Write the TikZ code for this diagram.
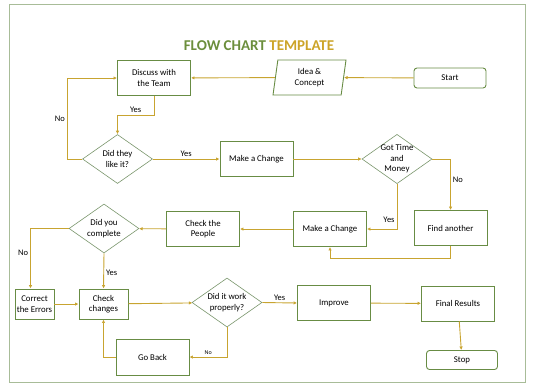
\documentclass[tikz,border=0pt]{standalone}
\usepackage{fontspec}
\setmainfont{Carlito}
\usepackage{tikz}
\usetikzlibrary{arrows.meta,positioning,shapes.geometric}
\definecolor{framegreen}{RGB}{168,188,152}
\definecolor{boxgreen}{RGB}{104,140,68}
\definecolor{decgreen}{RGB}{122,150,108}
\definecolor{linegold}{RGB}{200,164,48}
\definecolor{titlegreen}{RGB}{107,142,60}
\definecolor{titlegold}{RGB}{204,164,40}
\tikzset{
  >={Latex[length=3.5pt,width=3.5pt]},
  box/.style={draw=boxgreen, line width=0.9pt, fill=white, align=center, font=\fontsize{8.8}{10.5}\selectfont, minimum width=73pt, minimum height=35pt, inner sep=1.5pt},
  term/.style={box, rounded corners=3pt, minimum height=20pt},
  io/.style={box, trapezium, trapezium left angle=77, trapezium right angle=103, trapezium stretches body, minimum width=73pt, minimum height=35pt},
  dec/.style={draw=decgreen, line width=0.6pt, diamond, fill=white, align=center, font=\fontsize{8.8}{10.5}\selectfont, minimum width=70pt, minimum height=49pt, inner sep=-3pt},
  lbl/.style={font=\fontsize{8.5}{10}\selectfont, inner sep=2pt},
  flow/.style={->, draw=linegold, line width=0.9pt},
}
\begin{document}
\begin{tikzpicture}[x=1pt,y=-1pt]
  \useasboundingbox (0,0) rectangle (534,384);
  \draw[framegreen, line width=1pt] (9,4) rectangle (525,382);
  \node[font=\fontsize{15}{18}\bfseries] (ttl) at (259,46)
    {\textcolor{titlegreen}{FLOW CHART} \textcolor{titlegold}{TEMPLATE}};

  \node[box] (discuss) at (154,78) {Discuss with\\the Team};
  \node[io] (idea) at (309.5,77.5) {Idea \&\\Concept};
  \node[term, minimum width=72pt] (start) at (450,78) {Start};
  \node[dec] (liked) at (117.5,159) {Did they\\like it?};
  \node[box] (change1) at (256.5,159) {Make a Change};
  \node[dec] (time) at (397,159) {Got Time\\and\\Money};
  \node[box] (another) at (450.5,228) {Find another};
  \node[box] (change2) at (330,229) {Make a Change};
  \node[box] (people) at (203,229) {Check the\\People};
  \node[dec] (complete) at (104,228.5) {Did you\\complete};
  \node[box, minimum width=39pt, minimum height=30pt] (correct) at (34.5,304) {Correct\\the Errors};
  \node[box, minimum width=49pt, minimum height=30pt] (checkch) at (103.5,304) {Check\\changes};
  \node[dec] (work) at (227,302.5) {Did it work\\properly?};
  \node[box] (improve) at (334,303) {Improve};
  \node[box] (final) at (458,303.5) {Final Results};
  \node[term, minimum width=71pt, minimum height=19pt] (stop) at (462,360) {Stop};
  \node[box, minimum height=36pt] (goback) at (152.5,357) {Go Back};

  \draw[flow] (start) -- (idea);
  \draw[flow] (idea) -- (discuss);
  \draw[flow] (discuss.south) -- ++(0,19) -| node[lbl, pos=0.25, above] {Yes} (liked.north);
  \draw[flow] (liked.west) -- ++(-15,0) |- node[lbl, pos=0.25, left] {No} (discuss.west);
  \draw[flow] (liked.east) -- node[lbl, midway, above] {Yes} (change1.west);
  \draw[flow] (change1) -- (time);
  \draw[flow] (time.east) -| node[lbl, pos=0.7, right] {No} (another.north);
  \draw[flow] (time.south) |- node[lbl, pos=0.4, left] {Yes} (change2.east);
  \draw[flow] (another.south) -- ++(0,12) -| (change2.south);
  \draw[flow] (change2) -- (people);
  \draw[flow] (people) -- (complete);
  \draw[flow] (complete.west) -| node[lbl, pos=0.7, left] {No} ([xshift=-4pt]correct.north);
  \draw[flow] (complete.south) -- node[lbl, pos=0.55, right] {Yes} (checkch.north);
  \draw[flow] (correct) -- (checkch);
  \draw[flow] (checkch) -- (work);
  \draw[flow] (work.east) -- node[lbl, midway, above] {Yes} (improve.west);
  \draw[flow] (work.south) |- node[lbl, font=\fontsize{6}{7}\selectfont, pos=0.75, above] {No} (goback.east);
  \draw[flow] (goback.west) -| (checkch.south);
  \draw[flow] (improve) -- (final);
  \draw[flow] (final) -- (stop);
\end{tikzpicture}
\end{document}
